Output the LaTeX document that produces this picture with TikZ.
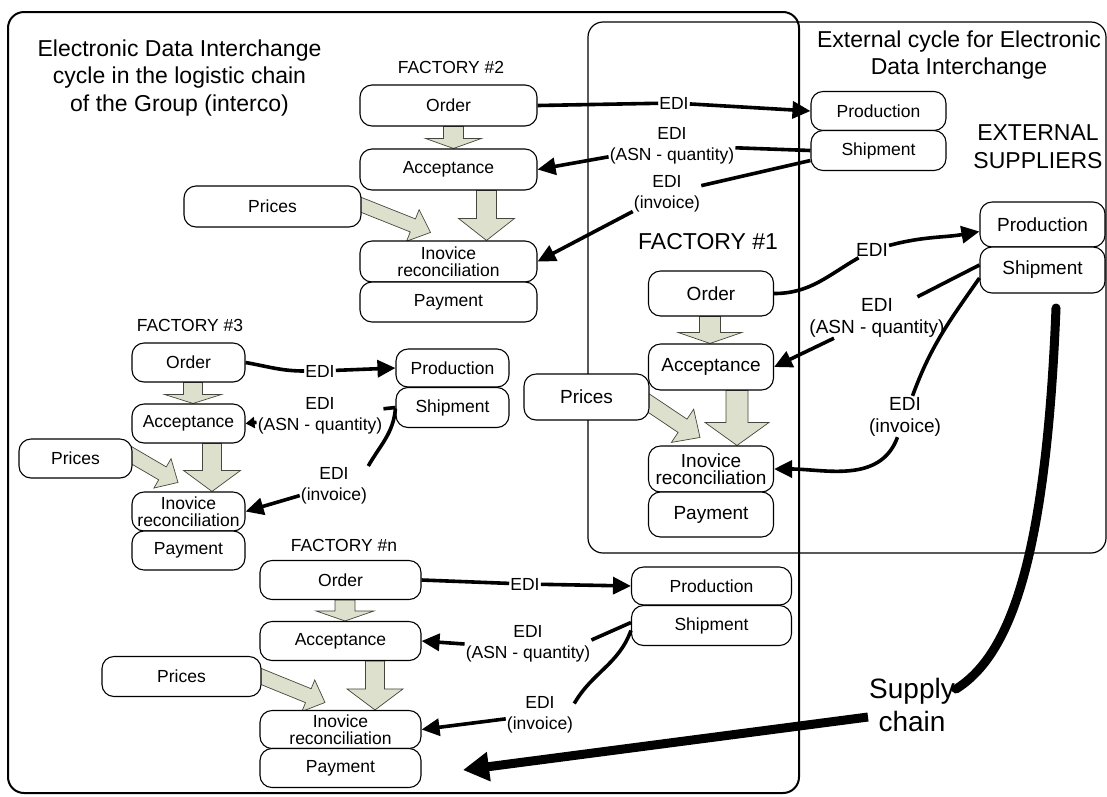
\documentclass[tikz,border=0pt]{standalone}
\usepackage{fontspec}
\setmainfont{Liberation Sans}
\usetikzlibrary{calc,arrows.meta}
\pgfdeclarelayer{background}
\pgfsetlayers{background,main}
\definecolor{fatfill}{RGB}{221,224,204}
\definecolor{fatdraw}{RGB}{70,70,60}
\newcommand{\blockarr}[5]{%
 \begin{pgfonlayer}{background}
 \draw[fatarrow] ($(#1)!#3!90:(#2)$) -- ($(#2)!#5!(#1)!#3!90:(#2)$) -- ($(#2)!#5!(#1)!#4!90:(#2)$) -- (#2) -- ($(#2)!#5!(#1)!#4!-90:(#2)$) -- ($(#2)!#5!(#1)!#3!-90:(#2)$) -- ($(#1)!#3!-90:(#2)$) -- cycle;
 \end{pgfonlayer}}
\tikzset{
 box/.style={draw=black, line width=1.1pt, fill=white, rounded corners=12pt, inner sep=0pt, align=center},
 bx/.style 2 args={box, minimum width=#1pt, minimum height=#2pt},
 ts/.style={font=\fontsize{17.5}{16.5}\selectfont},
 tl/.style={font=\fontsize{19}{17.5}\selectfont},
 lbl/.style={fill=white, inner sep=1pt, align=center, font=\fontsize{17.5}{21}\selectfont},
 lblL/.style={fill=white, inner sep=1pt, align=center, font=\fontsize{19}{22}\selectfont},
 big/.style={align=center, inner sep=0pt, font=\fontsize{23}{27.5}\selectfont},
 fac/.style={inner sep=0pt, font=\fontsize{17.5}{21}\selectfont},
 edl/.style={line width=3.6pt},
 eda/.style={edl, -{Triangle[length=18pt,width=17pt]}},
 edasm/.style={edl, -{Triangle[length=9pt,width=11pt]}},
 sup/.style={line width=9pt, line cap=round},
 supa/.style={line width=9pt, -{Triangle[length=26pt,width=28pt]}},
 fatarrow/.style={fill=fatfill, draw=fatdraw, line width=0.7pt, line join=miter},
 frameA/.style={draw, line width=2pt, rounded corners=16pt},
 frameB/.style={draw, line width=1.2pt, rounded corners=15pt}
}
\begin{document}
\begin{tikzpicture}[x=1pt,y=-1pt]
\useasboundingbox (0,0) rectangle (1107,796);
% frames
\draw[frameA] (8,12) rectangle (799,793);
\draw[frameB] (588,22) rectangle (1106,553);
% titles
\node[big] (t1) at (179.5,78) {Electronic Data Interchange\\cycle in the logistic chain\\of the Group (interco)};
\node[big] (t2) at (959,55) {External cycle for Electronic\\Data Interchange};
\node[big] (ext) at (1038,146.5) {EXTERNAL\\SUPPLIERS};
\node[big] (f1) at (708,242) {FACTORY \#1};
\node[fac] (f2) at (451,67) {FACTORY \#2};
\node[fac] (f3) at (190,325) {FACTORY \#3};
\node[fac] (fn) at (344,545) {FACTORY \#n};
% factory 2
\node[bx={177}{41},ts] (o2) at (448.5,105.5) {Order};
\node[bx={177}{41},ts] (a2) at (448.5,169.5) {Acceptance};
\node[bx={177}{41},ts] (i2) at (448.5,261.5) {Inovice\\reconciliation};
\node[bx={177}{40},ts] (p2) at (448.5,302) {Payment};
\node[bx={177}{41},ts] (pr2) at (272.5,206.5) {Prices};
\node[bx={135}{39},ts] (prod2) at (878.5,111) {Production};
\node[bx={135}{40},ts] (shp2) at (878.5,150.5) {Shipment};
% factory 1
\node[bx={125}{45},tl] (o1) at (711,293.5) {Order};
\node[bx={125}{46},tl] (a1) at (711,367) {Acceptance};
\node[bx={125}{46},tl] (i1) at (711,469) {Inovice\\reconciliation};
\node[bx={125}{45},tl] (p1) at (711,514.5) {Payment};
\node[bx={125}{46},tl] (pr1) at (586.5,397) {Prices};
\node[bx={125}{45},tl] (eprod) at (1042.5,224.5) {Production};
\node[bx={125}{46},tl] (eshp) at (1042.5,270) {Shipment};
% factory 3
\node[bx={113}{39},ts] (o3) at (188.5,362.5) {Order};
\node[bx={113}{39},ts] (a3) at (188.5,423.5) {Acceptance};
\node[bx={113}{39},ts] (i3) at (188.5,511.5) {Inovice\\reconciliation};
\node[bx={113}{39},ts] (p3) at (188.5,550.5) {Payment};
\node[bx={113}{39},ts] (pr3) at (75.5,458.5) {Prices};
\node[bx={113}{38},ts] (prod3) at (452.5,368) {Production};
\node[bx={113}{40},ts] (shp3) at (452.5,407.5) {Shipment};
% factory n
\node[bx={161}{39},ts] (on) at (340.5,580) {Order};
\node[bx={161}{39},ts] (an) at (340.5,641) {Acceptance};
\node[bx={161}{38},ts] (in) at (340.5,729.5) {Inovice\\reconciliation};
\node[bx={161}{39},ts] (pn) at (340.5,768) {Payment};
\node[bx={159}{40},ts] (prn) at (181.5,676.5) {Prices};
\node[bx={160}{38},ts] (prodn) at (711.5,586) {Production};
\node[bx={160}{40},ts] (shpn) at (711.5,625.5) {Shipment};
% EDI labels
\node[lbl] (lE2) at (674,103) {EDI};
\node[lbl] (lA2) at (672,145.5) {EDI\\(ASN - quantity)};
\node[lbl] (lI2) at (667,193.5) {EDI\\(invoice)};
\node[lblL] (lE1) at (872,250) {EDI};
\node[lblL] (lA1) at (877,317.5) {EDI\\(ASN - quantity)};
\node[lblL] (lI1) at (905,416.5) {EDI\\(invoice)};
\node[lbl] (lE3) at (320,371) {EDI};
\node[lbl] (lA3) at (320,415.5) {EDI\\(ASN - quantity)};
\node[lbl] (lI3) at (334,485.5) {EDI\\(invoice)};
\node[lbl] (lEn) at (525,584) {EDI};
\node[lbl] (lAn) at (528,644) {EDI\\(ASN - quantity)};
\node[lbl] (lIn) at (540,714.5) {EDI\\(invoice)};
\node[align=center, inner sep=1pt, font=\fontsize{28}{33}\selectfont] (lSC) at (912,705) {Supply\\chain};
% block arrows
\coordinate (b2a) at ([xshift=5pt]o2.south); \coordinate (b2b) at ([xshift=5pt]a2.north);
\coordinate (b2c) at ([xshift=38pt]a2.south); \coordinate (b2d) at ([xshift=38pt]i2.north);
\coordinate (b2e) at ([xshift=-10pt,yshift=5.5pt]pr2.east); \coordinate (b2f) at ([xshift=-18pt,yshift=8pt]i2.north);
\blockarr{b2a}{b2b}{10pt}{28pt}{10pt}
\blockarr{b2c}{b2d}{10pt}{28pt}{22pt}
\blockarr{b2e}{b2f}{7pt}{17pt}{19pt}
\coordinate (b1a) at ([xshift=-1pt]o1.south); \coordinate (b1b) at ([xshift=-1pt]a1.north);
\coordinate (b1c) at ([xshift=26pt]a1.south); \coordinate (b1d) at ([xshift=26pt]i1.north);
\coordinate (b1e) at ([xshift=-10pt]pr1.east); \coordinate (b1f) at ([xshift=-11pt,yshift=8pt]i1.north);
\blockarr{b1a}{b1b}{10.5pt}{32pt}{11pt}
\blockarr{b1c}{b1d}{11pt}{32pt}{23pt}
\blockarr{b1e}{b1f}{8pt}{20pt}{21pt}
\coordinate (b3a) at ([xshift=4.5pt]o3.south); \coordinate (b3b) at ([xshift=4.5pt]a3.north);
\coordinate (b3c) at ([xshift=23.5pt]a3.south); \coordinate (b3d) at ([xshift=23.5pt]i3.north);
\coordinate (b3e) at ([xshift=-10pt,yshift=8.5pt]pr3.east); \coordinate (b3f) at ([xshift=-10.5pt,yshift=9pt]i3.north);
\blockarr{b3a}{b3b}{9.5pt}{28.5pt}{9pt}
\blockarr{b3c}{b3d}{9.5pt}{28.5pt}{21pt}
\blockarr{b3e}{b3f}{7.5pt}{17pt}{18pt}
\coordinate (bna) at ([xshift=4.5pt]on.south); \coordinate (bnb) at ([xshift=4.5pt]an.north);
\coordinate (bnc) at ([xshift=34.5pt]an.south); \coordinate (bnd) at ([xshift=34.5pt]in.north);
\coordinate (bne) at ([xshift=-9pt,yshift=3.5pt]prn.east); \coordinate (bnf) at ([xshift=-15.5pt,yshift=7.5pt]in.north);
\blockarr{bna}{bnb}{10pt}{29pt}{10pt}
\blockarr{bnc}{bnd}{9.5pt}{28pt}{21pt}
\blockarr{bne}{bnf}{7.5pt}{17pt}{18pt}
% factory 2 connectors
\draw[edl] (o2.east) -- (lE2);
\draw[eda] (lE2) -- (prod2.west);
\draw[edl] (shp2.west) -- (lA2);
\draw[eda] (lA2) -- (a2.east);
\draw[edl] ([yshift=-10pt]shp2.west) -- (lI2);
\draw[eda] (lI2) -- (i2.east);
% factory 1 connectors
\draw[edl] (o1.east) to[out=0,in=-150] (lE1);
\draw[eda] (lE1) to[out=15,in=190] ([yshift=-7pt]eprod.west);
\draw[edl] ([yshift=5pt]eshp.west) -- (lA1);
\draw[eda] (lA1) -- (a1.east);
\draw[edl] ([yshift=-8pt]eshp.west) to[out=235,in=70] (lI1);
\draw[eda] (lI1) to[out=-110,in=0] (i1.east);
% factory 3 connectors
\draw[edl] (o3.east) to[out=-10,in=180] (lE3);
\draw[eda] (lE3) -- (prod3.west);
\draw[edl] (shp3.west) -- (lA3);
\draw[edasm] (lA3) -- (a3.east);
\draw[edl] ([yshift=-1pt]shp3.west) to[out=-95,in=60] (lI3.north east);
\draw[eda] (lI3) -- (i3.east);
% factory n connectors
\draw[edl] (on.east) -- (lEn);
\draw[eda] (lEn) -- (prodn.west);
\draw[edl] ([yshift=3pt]shpn.west) -- ([yshift=4pt]lAn.east);
\draw[eda] (lAn.west) -- (an.east);
\draw[edl] ([yshift=-5pt]shpn.west) to[out=-110,in=60] ([yshift=11pt]lIn.east);
\draw[eda] (lIn) -- (in.east);
% supply chain
\coordinate (sc0) at (1056,308);
\coordinate (sc1) at (463,770);
\draw[sup] (sc0) .. controls (1046,560) and (1010,655) .. ([yshift=16pt]lSC.east);
\draw[supa] ([yshift=-12pt]lSC.west) -- (sc1);
\end{tikzpicture}
\end{document}
